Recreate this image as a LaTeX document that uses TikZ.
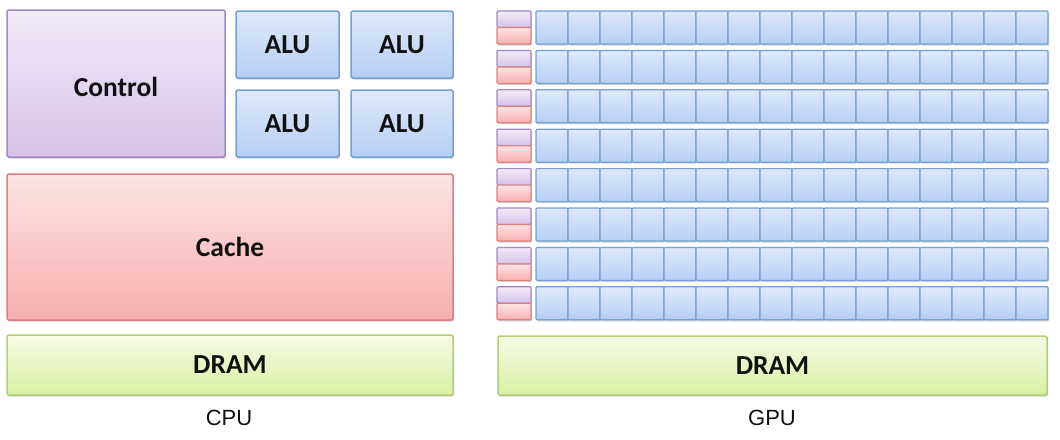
\documentclass[tikz,border=0pt]{standalone}
\usepackage{fontspec}
\setmainfont{Carlito}
\newfontfamily\labelfont{Liberation Sans}
\usetikzlibrary{shadows}
\definecolor{bluetop}{HTML}{DDE9FB}
\definecolor{bluebot}{HTML}{B6CEF4}
\definecolor{blueline}{HTML}{75A0D6}
\definecolor{purtop}{HTML}{F2EBF8}
\definecolor{purbot}{HTML}{D6C2E8}
\definecolor{purline}{HTML}{A388C2}
\definecolor{redtop}{HTML}{FDE4E4}
\definecolor{redbot}{HTML}{F7AEAE}
\definecolor{redline}{HTML}{DC8080}
\definecolor{grntop}{HTML}{F6FBE5}
\definecolor{grnbot}{HTML}{DAEFA4}
\definecolor{grnline}{HTML}{B2CD76}
\definecolor{txt}{HTML}{111111}
\tikzset{
  unit/.style={draw, line width=1.5pt, rounded corners=1.5pt, inner sep=0pt,
    drop shadow={shadow xshift=1pt, shadow yshift=-1.5pt, opacity=0.18, fill=black},
    font=\bfseries\fontsize{27.5}{30}\selectfont, text=txt},
  bluebox/.style={unit, draw=blueline, top color=bluetop, bottom color=bluebot},
  purbox/.style={unit, draw=purline, top color=purtop, bottom color=purbot},
  redbox/.style={unit, draw=redline, top color=redtop, bottom color=redbot},
  grnbox/.style={unit, draw=grnline, top color=grntop, bottom color=grnbot},
  cellbox/.style={rounded corners=1pt, line width=1.2pt},
  caption/.style={font=\labelfont\fontsize{22}{24}\selectfont, text=txt, inner sep=0pt},
}
\begin{document}
\begin{tikzpicture}[x=1pt,y=-1pt]
\useasboundingbox (0,0) rectangle (1060,439);
% CPU
\node[purbox, minimum width=218pt, minimum height=147pt,
  label={[font=\bfseries\fontsize{27.5}{30}\selectfont, text=txt, yshift=-3pt]center:Control}] (control) at (116,83.5) {};
\node[bluebox, minimum width=103pt, minimum height=67pt] (alu1) at (287.5,44.5) {ALU};
\node[bluebox, minimum width=102pt, minimum height=67pt] (alu2) at (402,44.5) {ALU};
\node[bluebox, minimum width=103pt, minimum height=67pt] (alu3) at (287.5,123.5) {ALU};
\node[bluebox, minimum width=102pt, minimum height=67pt] (alu4) at (402,123.5) {ALU};
\node[redbox, minimum width=446pt, minimum height=146pt] (cache) at (230,247) {Cache};
\node[grnbox, minimum width=446pt, minimum height=60pt] (dram1) at (230,365) {DRAM};
\node[caption] (cpu) at (229,418) {CPU};
% GPU
\foreach \r in {0,...,7}{
  \pgfmathsetmacro{\top}{11+39.4*\r}
  \node[purbox, cellbox, minimum width=34pt, minimum height=16.5pt] (gc\r) at (514,\top+8.25) {};
  \node[redbox, cellbox, minimum width=34pt, minimum height=16.5pt] (gk\r) at (514,\top+24.75) {};
  \foreach \i in {0,...,15}{
    \node[bluebox, cellbox, minimum width=32pt, minimum height=33pt] (g\r-\i) at (552+32*\i,\top+16.5) {};
  }
}
\node[grnbox, minimum width=549pt, minimum height=59pt] (dram2) at (772.5,365.5) {DRAM};
\node[caption] (gpu) at (772,418) {GPU};
\end{tikzpicture}
\end{document}
